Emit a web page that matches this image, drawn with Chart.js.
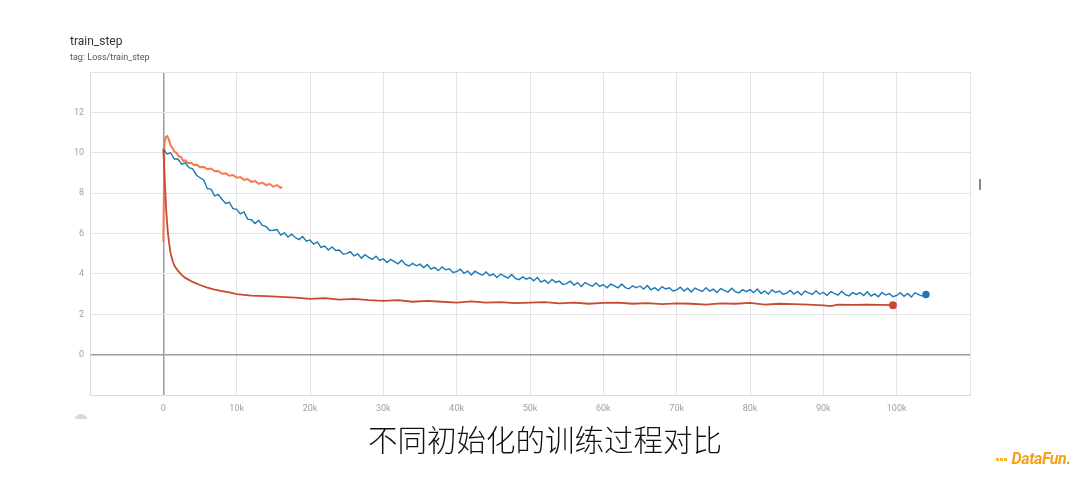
<!DOCTYPE html>
<html>
<head>
<meta charset="utf-8">
<script src="https://cdn.jsdelivr.net/npm/chart.js@4.4.1/dist/chart.umd.min.js"></script>
<style>
  html, body { margin: 0; padding: 0; background: #fff; }
  #page { position: relative; width: 1080px; height: 482px; overflow: hidden; font-family: Roboto, "DejaVu Sans", sans-serif; }
  #wrap { position: absolute; left: 0; top: 0; width: 1080px; height: 482px; }
  .title { position: absolute; left: 70px; top: 34px; font-size: 12px; color: #333; }
  .tag { position: absolute; left: 70px; top: 52px; font-size: 9px; color: #555; }
  .caption { position: absolute; left: 0; width: 1090px; top: 417px; text-align: center; font-family: "Noto Sans CJK SC", sans-serif; font-weight: 300; font-size: 29.5px; color: #111; }
  .logo { position: absolute; left: 996px; top: 449px; font-size: 16px; font-weight: bold; font-style: italic; color: #f5a01a; letter-spacing: -0.4px; }
  .logo i { display: inline-block; width: 3px; height: 3px; background: #f7b733; margin-right: 1px; vertical-align: middle; }
  .mark { position: absolute; left: 979px; top: 179px; width: 2px; height: 11px; background: #888; }
  .knobclip { position: absolute; left: 74px; top: 414px; width: 16px; height: 5px; overflow: hidden; }
  .knob { width: 14px; height: 14px; border-radius: 50%; background: #dadada; }
</style>
</head>
<body>
<div id="page">
  <div id="wrap"><canvas id="lossChart"></canvas></div>
  <div class="title">train_step</div>
  <div class="tag">tag: Loss/train_step</div>
  <div class="mark"></div>
  <div class="knobclip"><div class="knob"></div></div>
  <div class="caption">不同初始化的训练过程对比</div>
  <div class="logo"><i></i><i></i><i></i> DataFun.</div>
</div>
<script>
// steps are in thousands (k)
const xTicks = [-10, 0, 10, 20, 30, 40, 50, 60, 70, 80, 90, 100, 110];
const yTicks = [-2, 0, 2, 4, 6, 8, 10, 12, 14];

const blueSteps = [
  0, 0.5, 1, 1.5, 2, 2.5, 3, 3.5, 4, 4.5,
  5, 5.5, 6, 6.5, 7, 7.5, 8, 8.5, 9, 9.5,
  10, 10.5, 11, 11.5, 12, 12.5, 13, 13.5, 14, 14.5,
  15, 15.5, 16, 16.5, 17, 17.5, 18, 18.5, 19, 19.5,
  20, 20.5, 21, 21.5, 22, 22.5, 23, 23.5, 24, 24.5,
  25, 25.5, 26, 26.5, 27, 27.5, 28, 28.5, 29, 29.5,
  30, 30.5, 31, 31.5, 32, 32.5, 33, 33.5, 34, 34.5,
  35, 35.5, 36, 36.5, 37, 37.5, 38, 38.5, 39, 39.5,
  40, 40.5, 41, 41.5, 42, 42.5, 43, 43.5, 44, 44.5,
  45, 45.5, 46, 46.5, 47, 47.5, 48, 48.5, 49, 49.5,
  50, 50.5, 51, 51.5, 52, 52.5, 53, 53.5, 54, 54.5,
  55, 55.5, 56, 56.5, 57, 57.5, 58, 58.5, 59, 59.5,
  60, 60.5, 61, 61.5, 62, 62.5, 63, 63.5, 64, 64.5,
  65, 65.5, 66, 66.5, 67, 67.5, 68, 68.5, 69, 69.5,
  70, 70.5, 71, 71.5, 72, 72.5, 73, 73.5, 74, 74.5,
  75, 75.5, 76, 76.5, 77, 77.5, 78, 78.5, 79, 79.5,
  80, 80.5, 81, 81.5, 82, 82.5, 83, 83.5, 84, 84.5,
  85, 85.5, 86, 86.5, 87, 87.5, 88, 88.5, 89, 89.5,
  90, 90.5, 91, 91.5, 92, 92.5, 93, 93.5, 94, 94.5,
  95, 95.5, 96, 96.5, 97, 97.5, 98, 98.5, 99, 99.5,
  100, 100.5, 101, 101.5, 102, 102.5, 103, 103.5, 104];
const blueLoss = [
  10.18, 9.94, 10.0, 9.69, 9.69, 9.43, 9.5, 9.26, 9.2, 8.9,
  8.76, 8.65, 8.22, 8.2, 7.86, 7.93, 7.7, 7.49, 7.54, 7.23,
  7.2, 6.97, 7.07, 6.71, 6.68, 6.49, 6.65, 6.4, 6.35, 6.15,
  6.16, 6.2, 5.92, 6.03, 5.83, 5.97, 5.8, 5.7, 5.85, 5.62,
  5.68, 5.47, 5.58, 5.31, 5.38, 5.18, 5.33, 5.16, 5.18, 4.98,
  5.0, 5.1, 4.89, 4.99, 4.78, 4.95, 4.82, 4.72, 4.87, 4.67,
  4.74, 4.56, 4.72, 4.61, 4.5, 4.67, 4.47, 4.39, 4.52, 4.4,
  4.48, 4.31, 4.46, 4.23, 4.32, 4.16, 4.34, 4.2, 4.25, 4.07,
  4.11, 4.23, 4.03, 4.14, 3.94, 4.13, 4.02, 3.93, 4.09, 3.91,
  3.99, 3.82, 3.99, 3.89, 3.79, 3.97, 3.78, 3.71, 3.85, 3.74,
  3.82, 3.66, 3.82, 3.59, 3.69, 3.53, 3.72, 3.58, 3.64, 3.47,
  3.52, 3.64, 3.45, 3.57, 3.38, 3.57, 3.47, 3.39, 3.55, 3.38,
  3.47, 3.31, 3.49, 3.4, 3.31, 3.5, 3.32, 3.26, 3.41, 3.31,
  3.4, 3.25, 3.42, 3.21, 3.32, 3.17, 3.37, 3.25, 3.31, 3.15,
  3.21, 3.34, 3.15, 3.29, 3.1, 3.3, 3.21, 3.13, 3.31, 3.14,
  3.24, 3.08, 3.27, 3.18, 3.1, 3.29, 3.12, 3.06, 3.22, 3.12,
  3.22, 3.07, 3.25, 3.03, 3.15, 3.0, 3.21, 3.08, 3.15, 2.99,
  3.05, 3.18, 3.0, 3.13, 2.95, 3.15, 3.06, 2.98, 3.16, 2.99,
  3.09, 2.93, 3.12, 3.03, 2.95, 3.14, 2.97, 2.91, 3.07, 2.98,
  3.07, 2.93, 3.11, 2.9, 3.01, 2.87, 3.08, 2.95, 3.02, 2.87,
  2.93, 3.07, 2.89, 3.03, 2.85, 3.06, 2.97, 2.9, 2.98];

const redSteps = [0, 0.2, 0.4, 0.6, 0.8, 1, 1.3, 1.6, 2, 2.5, 3, 4, 5, 6, 7, 8, 9, 10, 12, 14, 16, 18, 20,
  22, 24, 26, 28, 30, 32, 34, 36, 38, 40, 42, 44, 46, 48, 50, 52, 54, 56, 58, 60,
  62, 64, 66, 68, 70, 72, 74, 76, 78, 80, 82, 84, 86, 88, 90, 91, 92, 94, 96, 98, 99.5];
const redLoss = [10.2, 8.6, 7.1, 6.1, 5.5, 5.0, 4.6, 4.35, 4.15, 3.95, 3.8, 3.6, 3.45, 3.32, 3.22, 3.15, 3.08, 3.0, 2.92, 2.9, 2.86, 2.82, 2.76,
  2.80, 2.72, 2.76, 2.70, 2.66, 2.70, 2.62, 2.66, 2.62, 2.58, 2.64, 2.58, 2.60, 2.55, 2.58, 2.60, 2.54, 2.58, 2.52, 2.56,
  2.58, 2.52, 2.55, 2.50, 2.54, 2.52, 2.48, 2.54, 2.52, 2.56, 2.48, 2.52, 2.50, 2.48, 2.44, 2.40, 2.48, 2.46, 2.47, 2.46, 2.45];

const orangeSteps = [0, 0.15, 0.35, 0.55, 0.8, 1.0, 1.25, 1.5, 1.8, 2.1, 2.4, 2.7, 3.0, 3.4, 3.8, 4.2, 4.6, 5.0, 5.5, 6.0,
  6.5, 7.0, 7.5, 8.0, 8.5, 9.0, 9.5, 10.0, 10.5, 11.0, 11.5, 12.0, 12.5, 13.0, 13.5, 14.0, 14.5, 15.0, 15.5, 16.0, 16.2];
const orangeLoss = [5.6, 10.5, 10.78, 10.82, 10.6, 10.35, 10.25, 10.05, 10.0, 9.82, 9.8, 9.6, 9.62, 9.48, 9.5, 9.38, 9.4, 9.28, 9.3, 9.18,
  9.22, 9.08, 9.1, 8.96, 8.98, 8.86, 8.9, 8.76, 8.8, 8.66, 8.7, 8.56, 8.6, 8.46, 8.52, 8.4, 8.45, 8.32, 8.4, 8.26, 8.32];

const toPoints = (steps, vals) => steps.map((s, i) => ({ x: s, y: vals[i] }));
const endDot = n => ctx => (ctx.dataIndex === n - 1 ? 3 : 0);

const tickFont = { family: 'Roboto, sans-serif', size: 9 };

new Chart(document.getElementById('lossChart'), {
  type: 'line',
  data: {
    datasets: [
      {
        label: 'blue',
        data: toPoints(blueSteps, blueLoss),
        borderColor: '#1a78b6',
        backgroundColor: '#1a78b6',
        borderWidth: 1.4,
        pointRadius: endDot(blueSteps.length)
      },
      {
        label: 'red',
        data: toPoints(redSteps, redLoss),
        borderColor: '#c94a30',
        backgroundColor: '#c94a30',
        borderWidth: 1.8,
        pointRadius: endDot(redSteps.length)
      },
      {
        label: 'orange',
        data: toPoints(orangeSteps, orangeLoss),
        borderColor: '#f47b50',
        backgroundColor: '#f47b50',
        borderWidth: 2,
        pointRadius: 0
      }
    ]
  },
  options: {
    responsive: true,
    maintainAspectRatio: false,
    animation: false,
    layout: { padding: { left: 60, top: 72, right: 110, bottom: 57 } },
    plugins: { legend: { display: false }, tooltip: { enabled: false } },
    elements: { line: { tension: 0 }, point: { borderWidth: 0 } },
    scales: {
      x: {
        type: 'linear',
        min: xTicks[0],
        max: xTicks[xTicks.length - 1],
        afterFit: s => { s.height = 30; },
        afterBuildTicks: s => { s.ticks = xTicks.map(v => ({ value: v })); },
        grid: {
          drawTicks: false,
          color: c => (c.tick && c.tick.value === 0 ? '#9c9c9c' : '#e3e3e3'),
          lineWidth: c => (c.tick && c.tick.value === 0 ? 1.5 : 1)
        },
        border: { color: '#dcdcdc' },
        ticks: {
          padding: 8,
          maxRotation: 0,
          font: tickFont,
          color: '#a0a0a0',
          callback: v => (v < 0 || v > 100 ? '' : (v === 0 ? '0' : v + 'k'))
        }
      },
      y: {
        min: yTicks[0],
        max: yTicks[yTicks.length - 1],
        afterFit: s => { s.width = 30; },
        afterBuildTicks: s => { s.ticks = yTicks.map(v => ({ value: v })); },
        grid: {
          drawTicks: false,
          color: c => (c.tick && c.tick.value === 0 ? '#9c9c9c' : '#e3e3e3'),
          lineWidth: c => (c.tick && c.tick.value === 0 ? 1.5 : 1)
        },
        border: { color: '#dcdcdc' },
        ticks: {
          padding: 6,
          font: tickFont,
          color: '#a0a0a0',
          callback: v => (v < 0 || v > 12 ? '' : v)
        }
      }
    }
  }
});
</script>
</body>
</html>
